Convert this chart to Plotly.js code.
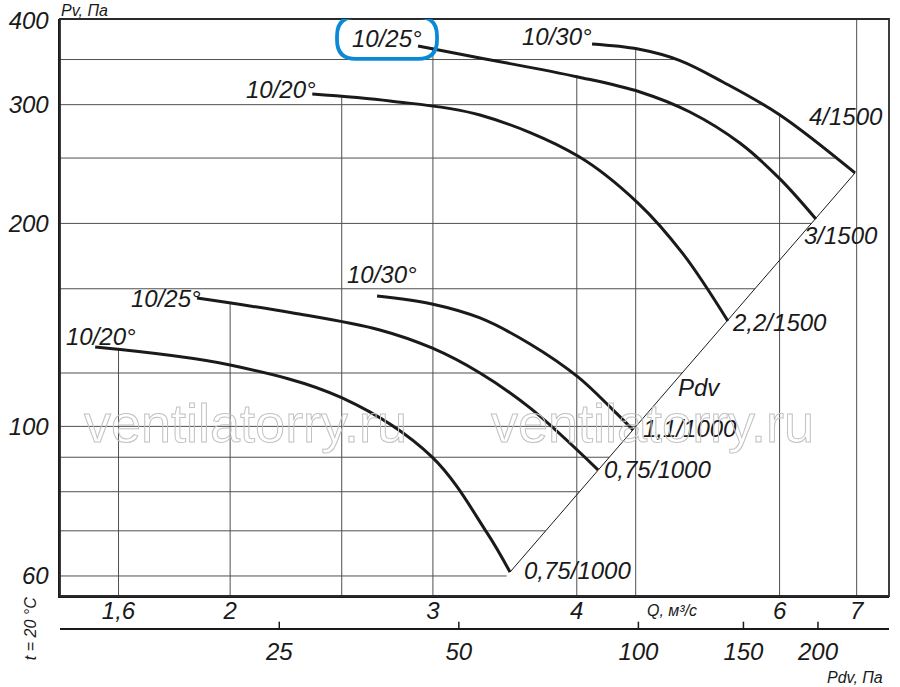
<!DOCTYPE html>
<html>
<head>
<meta charset="utf-8">
<script src="https://cdn.plot.ly/plotly-3.0.1.min.js"></script>
<style>
html,body{margin:0;padding:0;background:#ffffff;}
#chart{width:900px;height:687px;}
</style>
</head>
<body>
<div id="chart"></div>
<script>
// ---------- DATA ----------
const bladeLabels = ['10/20°','10/25°','10/30°','10/20°','10/25°','10/30°'];
const motorLabels = ['0,75/1000','0,75/1000','1,1/1000','2,2/1500','3/1500','4/1500'];

// Q, м³/с  and  Pv, Па  along each curve
const qA = [1.527,2.000,2.502,2.994,3.343,3.500];
const pA = [131.1,123.3,110.2,90.1,69.5,60.8];
const qB = [1.872,2.268,2.698,2.994,3.296,3.643,4.173];
const pB = [155.0,147.3,139.0,130.7,120.0,106.5,86.2];
const qC = [2.683,2.994,3.296,3.643,4.009,4.300,4.476];
const pC = [156.1,151.9,144.8,132.5,118.4,105.8,98.8];
const qD = [2.357,2.753,3.296,4.009,4.521,4.947,5.411];
const pD = [311.1,303.8,289.6,251.8,214.4,180.2,143.3];
const qE = [2.912,3.296,4.009,4.539,5.015,5.542,6.004,6.452];
const pE = [366.6,351.9,329.8,313.3,292.6,263.2,232.8,203.0];
const qF = [4.124,4.521,4.917,5.357,6.004,6.977];
const pF = [369.1,362.8,348.8,324.2,289.6,237.6];

const qGrid = [1.6,2,2.5,3,4,4.5,6,7];
const pGrid = [60,70,80,90,100,120,160,200,250,300,350];
const xTickVals = [1.6,2,3,4,6,7];
const xTickText = ['1,6','2','3','4','6','7'];
const yTickVals = [60,100,200,300,400];
const yTickText = ['60','100','200','300','400'];
const pdvTickVals = [25,50,100,150,200];
const pdvTickText = ['25','50','100','150','200'];

// ---------- LAYOUT CONSTANTS ----------
const FONT = '"Liberation Sans", Arial, sans-serif';
const INK = '#1a1a1a';
const GRIDC = '#505050';
const xRangeL = [0.1533, 0.87317];
const yRangeL = [1.74846, 2.60417];
const pdvRangeL = [1.03034, 2.42012];

const curves = [[qA,pA],[qB,pB],[qC,pC],[qD,pD],[qE,pE],[qF,pF]];

function interpP(q, qs, ps){
  if(q < qs[0] || q > qs[qs.length-1]) return null;
  for(let i=0;i<qs.length-1;i++){
    if(q>=qs[i] && q<=qs[i+1]){
      const t=(Math.log(q)-Math.log(qs[i]))/(Math.log(qs[i+1])-Math.log(qs[i]));
      return Math.exp(Math.log(ps[i])+t*(Math.log(ps[i+1])-Math.log(ps[i])));
    }
  }
  return null;
}
function interpQ(p, qs, ps){
  let best=null;
  for(let i=0;i<qs.length-1;i++){
    const a=ps[i], b=ps[i+1];
    if(a===b) continue;
    if((p<=a && p>=b) || (p>=a && p<=b)){
      const t=(Math.log(p)-Math.log(a))/(Math.log(b)-Math.log(a));
      const q=Math.exp(Math.log(qs[i])+t*(Math.log(qs[i+1])-Math.log(qs[i])));
      if(best===null || q>best) best=q;
    }
  }
  return best;
}

// Pdv line through curve end points
const ends = curves.map(c=>[c[0][c[0].length-1], c[1][c[1].length-1]]).sort((a,b)=>a[0]-b[0]);
const pdvFirst = ends[0], pdvLast = ends[ends.length-1];
const pdvN = Math.log(pdvLast[1]/pdvFirst[1])/Math.log(pdvLast[0]/pdvFirst[0]);
function pdvQ(p){ return pdvFirst[0]*Math.pow(p/pdvFirst[1], 1/pdvN); }

const yBottom = Math.pow(10,yRangeL[0]);
const yTop = Math.pow(10,yRangeL[1]);
const xLeft = Math.pow(10,xRangeL[0]);

// vertical grid (clipped at the upper envelope)
const vgx=[], vgy=[];
qGrid.forEach(q=>{
  let top=null;
  curves.forEach(c=>{ const v=interpP(q,c[0],c[1]); if(v!==null && (top===null||v>top)) top=v; });
  top = (top===null) ? yTop : top*1.005;
  vgx.push(q,q,null); vgy.push(yBottom,top,null);
});
// horizontal grid (clipped at the right envelope)
const hgx=[], hgy=[];
pGrid.forEach(p=>{
  let right;
  if(p<=pdvLast[1]) right=pdvQ(p);
  else {
    right=null;
    curves.forEach(c=>{ const v=interpQ(p,c[0],c[1]); if(v!==null && (right===null||v>right)) right=v; });
    right = (right===null) ? Math.pow(10,xRangeL[1]) : right*1.004;
  }
  hgx.push(xLeft,right,null); hgy.push(p,p,null);
});

const traces = [
  {x:vgx, y:vgy, mode:'lines', line:{color:GRIDC, width:1}, hoverinfo:'skip'},
  {x:hgx, y:hgy, mode:'lines', line:{color:GRIDC, width:1}, hoverinfo:'skip'},
  {x:[pdvFirst[0],pdvLast[0]], y:[pdvFirst[1],pdvLast[1]], mode:'lines', line:{color:INK, width:1}, hoverinfo:'skip'},
];
curves.forEach(c=>{
  traces.push({x:c[0], y:c[1], mode:'lines', line:{color:INK, width:3, shape:'spline', smoothing:1}, hoverinfo:'skip'});
});
// carrier for the Pdv scale
traces.push({x:[pdvTickVals[0]], y:[yTickVals[0]], xaxis:'x2', yaxis:'y', mode:'markers', marker:{opacity:0}, hoverinfo:'skip'});

const labelFont = {family:FONT, size:24, color:INK, style:'italic'};
const startCfg = [
  {xanchor:'center', xshift:6, yshift:11},
  {xanchor:'right', xshift:6, yshift:0},
  {xanchor:'center', xshift:5, yshift:21},
  {xanchor:'right', xshift:6, yshift:5},
  {xanchor:'right', xshift:6, yshift:7},
  {xanchor:'right', xshift:2, yshift:7}
];
const endCfg = [
  {xanchor:'left', xshift:12, yshift:2},
  {xanchor:'left', xshift:4, yshift:0},
  {xanchor:'left', xshift:8, yshift:1},
  {xanchor:'left', xshift:2, yshift:-1},
  {xanchor:'left', xshift:-14, yshift:-16},
  {xanchor:'right', xshift:30, yshift:56}
];

const annotations = [];
curves.forEach((c,i)=>{
  const n=c[0].length-1;
  annotations.push({x:Math.log10(c[0][0]), y:Math.log10(c[1][0]), xref:'x', yref:'y', text:bladeLabels[i],
    showarrow:false, font:labelFont, xanchor:startCfg[i].xanchor, yanchor:'middle', xshift:startCfg[i].xshift, yshift:startCfg[i].yshift});
  annotations.push({x:Math.log10(c[0][n]), y:Math.log10(c[1][n]), xref:'x', yref:'y', text:motorLabels[i],
    showarrow:false, font:labelFont, xanchor:endCfg[i].xanchor, yanchor:'middle', xshift:endCfg[i].xshift, yshift:endCfg[i].yshift});
});
// "Pdv" label beside the dynamic-pressure line
const pMid = Math.sqrt(ends[2][1]*ends[3][1]);
annotations.push({x:Math.log10(pdvQ(pMid)), y:Math.log10(pMid), xref:'x', yref:'y', text:'Pdv', showarrow:false,
  font:labelFont, xanchor:'center', yanchor:'middle', xshift:20, yshift:-12});

const smallFont = {family:FONT, size:16, color:INK, style:'italic'};
annotations.push({x:0, y:1, xref:'paper', yref:'paper', text:'Pv, Па', showarrow:false, font:smallFont,
  xanchor:'left', yanchor:'bottom', xshift:-1, yshift:-2});
annotations.push({x:0.738, y:0.031, xref:'paper', yref:'paper', text:'Q, м³/с', showarrow:false, font:smallFont,
  xanchor:'center', yanchor:'middle'});
annotations.push({x:0.959, y:-0.080, xref:'paper', yref:'paper', text:'Pdv, Па', showarrow:false, font:smallFont,
  xanchor:'center', yanchor:'middle'});
annotations.push({x:-0.036, y:0.0, xref:'paper', yref:'paper', text:'t = 20 °C', showarrow:false, font:smallFont,
  xanchor:'center', yanchor:'middle', textangle:-90});
// watermark
const wm = '<span style="fill:none;stroke:#c2c2c2;stroke-width:1px">ventilatorry.ru</span>';
[0.2232, 0.7153].forEach(px=>{
  annotations.push({x:px, y:0.3377, xref:'paper', yref:'paper', text:wm, showarrow:false,
    font:{family:FONT, size:54, color:'rgba(255,255,255,0)'}, xanchor:'center', yanchor:'middle'});
});

// rounded highlight round the upper 10/25° label
function roundRect(x0,x1,y0,y1,r){
  return `M${x0+r},${y0} L${x1-r},${y0} Q${x1},${y0} ${x1},${y0+r} L${x1},${y1-r} Q${x1},${y1} ${x1-r},${y1} `+
         `L${x0+r},${y1} Q${x0},${y1} ${x0},${y1-r} L${x0},${y0+r} Q${x0},${y0} ${x0+r},${y0} Z`;
}
const shapes = [
  {type:'rect', xref:'x domain', yref:'y domain', x0:0, x1:1, y0:0, y1:1, line:{color:'#2a2a2a', width:1.8}, layer:'above'},
  {type:'path', xref:'x', yref:'y', xsizemode:'pixel', ysizemode:'pixel', xanchor:qE[0], yanchor:pE[0],
   path:roundRect(-81,19,-13,29,19), line:{color:'#0a8ad6', width:3.8}, fillcolor:'rgba(0,0,0,0)'}
];
// tick marks on the Pdv scale (pointing up from its line), placed from the scale's range
pdvTickVals.forEach(v=>{
  const fx = (Math.log10(v)-pdvRangeL[0])/(pdvRangeL[1]-pdvRangeL[0]);
  shapes.push({type:'path', xref:'paper', yref:'paper', path:`M${fx},0 L${fx},0.012`, line:{color:INK, width:1.5}, layer:'above'});
});

const tickFont = {family:FONT, size:24, color:INK, style:'italic'};
const layout = {
  width:900, height:687,
  margin:{l:60, r:11, t:19, b:58, pad:0},
  paper_bgcolor:'#ffffff', plot_bgcolor:'#ffffff',
  showlegend:false,
  xaxis:{type:'log', range:xRangeL, tickvals:xTickVals, ticktext:xTickText, ticks:'', showgrid:false, zeroline:false,
    showline:true, linewidth:2.5, linecolor:INK, tickfont:tickFont, ticklabelstandoff:-8},
  xaxis2:{type:'log', overlaying:'x', anchor:'free', position:0, side:'bottom', range:pdvRangeL,
    tickvals:pdvTickVals, ticktext:pdvTickText, ticks:'',
    showline:true, linewidth:2, linecolor:INK, showgrid:false, zeroline:false, tickfont:tickFont, ticklabelstandoff:1},
  yaxis:{type:'log', range:yRangeL, domain:[0.0541,1], tickvals:yTickVals, ticktext:yTickText, ticks:'', showgrid:false,
    zeroline:false, showline:true, linewidth:2.5, linecolor:INK, tickfont:tickFont, ticklabelstandoff:4},
  annotations:annotations,
  shapes:shapes
};

Plotly.newPlot('chart', traces, layout, {displayModeBar:false, staticPlot:true});
</script>
</body>
</html>
